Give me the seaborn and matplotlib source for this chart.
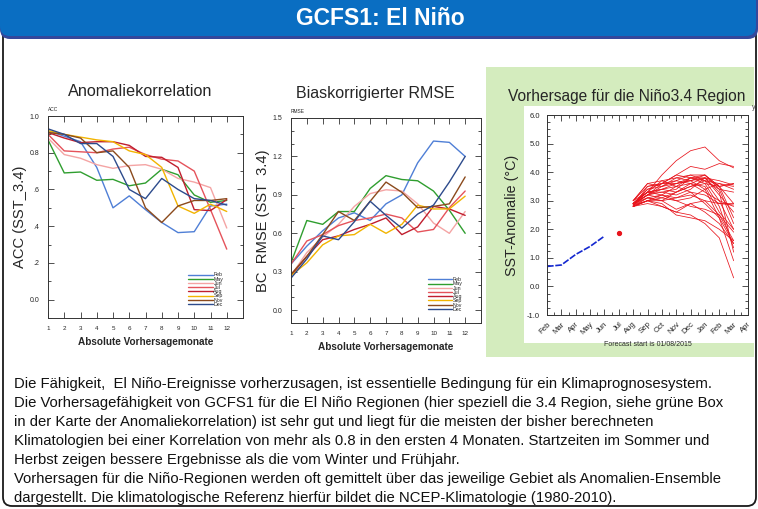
import matplotlib
matplotlib.use("Agg")
import matplotlib.pyplot as plt
from matplotlib.patches import FancyBboxPatch, Rectangle
from matplotlib.ticker import MultipleLocator
import pandas as pd
import seaborn as sns

# --- Skill-Kurven (ACC / BC-RMSE) pro Startmonat ---
lead_months = list(range(1, 13))
start_months = ["Feb", "May", "Jun", "Jul", "Aug", "Sep", "Nov", "Dec"]
start_colors = ["#4f7fd6", "#2f9e2f", "#f4a4a4", "#e5535b", "#c01e2e", "#f2b400", "#8b4a1c", "#2d4b8c"]

acc_feb = [0.92, 0.89, 0.86, 0.72, 0.50, 0.565, 0.49, 0.42, 0.365, 0.37, 0.51, 0.52]
acc_may = [0.87, 0.69, 0.695, 0.65, 0.655, 0.62, 0.635, 0.71, 0.68, 0.57, 0.53, 0.54]
acc_jun = [0.88, 0.79, 0.77, 0.735, 0.715, 0.73, 0.735, 0.71, 0.66, 0.64, 0.61, 0.39]
acc_jul = [0.90, 0.81, 0.805, 0.80, 0.82, 0.83, 0.79, 0.765, 0.755, 0.70, 0.49, 0.275]
acc_aug = [0.91, 0.88, 0.855, 0.86, 0.86, 0.84, 0.78, 0.775, 0.72, 0.49, 0.485, 0.545]
acc_sep = [0.92, 0.90, 0.885, 0.87, 0.86, 0.81, 0.79, 0.72, 0.51, 0.47, 0.52, 0.48]
acc_nov = [0.91, 0.90, 0.88, 0.80, 0.81, 0.72, 0.50, 0.42, 0.51, 0.54, 0.54, 0.55]
acc_dec = [0.93, 0.90, 0.85, 0.85, 0.78, 0.60, 0.55, 0.66, 0.60, 0.55, 0.54, 0.515]

rmse_feb = [0.36, 0.50, 0.62, 0.72, 0.76, 0.70, 0.83, 0.90, 1.15, 1.32, 1.31, 1.20]
rmse_may = [0.37, 0.70, 0.67, 0.77, 0.77, 0.95, 1.05, 1.02, 1.01, 0.93, 0.78, 0.60]
rmse_jun = [0.27, 0.45, 0.57, 0.67, 0.81, 0.91, 0.94, 0.93, 0.83, 0.68, 0.60, 0.77]
rmse_jul = [0.36, 0.54, 0.59, 0.66, 0.70, 0.72, 0.75, 0.72, 0.61, 0.63, 0.80, 0.93]
rmse_aug = [0.27, 0.42, 0.55, 0.58, 0.63, 0.67, 0.72, 0.59, 0.65, 0.81, 0.79, 0.74]
rmse_sep = [0.27, 0.37, 0.51, 0.58, 0.59, 0.67, 0.60, 0.67, 0.82, 0.79, 0.79, 0.89]
rmse_nov = [0.28, 0.42, 0.59, 0.77, 0.70, 0.85, 1.00, 0.92, 0.80, 0.81, 0.83, 1.04]
rmse_dec = [0.25, 0.40, 0.58, 0.55, 0.69, 0.85, 0.74, 0.64, 0.75, 0.82, 1.00, 1.20]

acc_all = [acc_feb, acc_may, acc_jun, acc_jul, acc_aug, acc_sep, acc_nov, acc_dec]
rmse_all = [rmse_feb, rmse_may, rmse_jun, rmse_jul, rmse_aug, rmse_sep, rmse_nov, rmse_dec]

# --- Nino3.4 Vorhersage ---
axis_months = ["Feb", "Mar", "Apr", "May", "Jun", "Jul", "Aug", "Sep",
               "Oct", "Nov", "Dec", "Jan", "Feb", "Mar", "Apr"]
obs_sst = [0.70, 0.75, 1.12, 1.40, 1.76]          # Feb..Jun beobachtet
jul_sst = 1.86
ens_members = [
    [2.90, 3.30, 3.90, 4.40, 4.75, 4.88, 4.40, 4.15],
    [2.90, 3.20, 3.60, 3.90, 4.20, 4.10, 4.30, 4.20],
    [2.80, 3.50, 3.60, 3.70, 3.90, 3.90, 3.50, 3.60],
    [3.00, 3.60, 3.70, 3.50, 3.80, 3.80, 3.70, 3.55],
    [2.90, 3.30, 3.40, 3.60, 3.70, 3.90, 3.40, 3.30],
    [2.80, 3.10, 3.00, 3.30, 3.50, 3.60, 3.50, 2.90],
    [2.85, 3.00, 3.20, 3.10, 3.30, 3.20, 2.90, 2.85],
    [2.90, 3.40, 3.50, 3.80, 3.70, 3.80, 3.20, 2.60],
    [2.80, 2.90, 2.80, 2.60, 2.90, 3.00, 2.90, 2.90],
    [3.00, 3.30, 3.20, 3.00, 3.10, 3.40, 3.60, 3.50],
    [2.90, 3.20, 3.50, 3.70, 3.60, 3.50, 2.60, 2.00],
    [2.80, 3.00, 2.90, 2.50, 2.40, 2.30, 2.00, 1.60],
    [2.90, 3.30, 3.30, 3.40, 3.80, 3.90, 3.50, 2.40],
    [2.85, 3.10, 3.00, 2.70, 2.90, 2.60, 2.20, 1.50],
    [2.90, 3.40, 3.60, 3.90, 3.80, 3.60, 2.80, 1.35],
    [2.80, 3.00, 2.80, 2.60, 2.50, 2.20, 1.70, 0.30],
    [3.00, 3.50, 3.60, 3.60, 3.70, 3.40, 2.40, 0.90],
    [2.90, 3.20, 3.10, 3.30, 3.50, 3.70, 3.40, 2.20],
    [2.80, 3.00, 3.00, 3.10, 3.20, 3.00, 2.50, 1.90],
    [2.90, 3.30, 3.40, 3.50, 3.60, 3.30, 3.00, 2.00],
    [2.85, 3.20, 3.30, 3.20, 3.40, 3.80, 3.30, 1.20],
    [3.00, 3.60, 3.50, 3.60, 3.80, 3.70, 3.60, 3.40],
    [2.90, 3.10, 3.20, 3.50, 3.30, 2.90, 2.40, 1.50],
    [2.80, 3.00, 3.10, 3.00, 2.80, 2.70, 2.50, 1.60],
    [2.90, 3.30, 3.70, 3.80, 3.90, 3.70, 3.00, 2.80],
    [2.85, 3.20, 3.40, 3.30, 3.60, 3.80, 3.50, 3.60],
]

body_lines = [
    "Die Fähigkeit,  El Niño-Ereignisse vorherzusagen, ist essentielle Bedingung für ein Klimaprognosesystem.",
    "Die Vorhersagefähigkeit von GCFS1 für die El Niño Regionen (hier speziell die 3.4 Region, siehe grüne Box",
    "in der Karte der Anomaliekorrelation) ist sehr gut und liegt für die meisten der bisher berechneten",
    "Klimatologien bei einer Korrelation von mehr als 0.8 in den ersten 4 Monaten. Startzeiten im Sommer und",
    "Herbst zeigen bessere Ergebnisse als die vom Winter und Frühjahr.",
    "Vorhersagen für die Niño-Regionen werden oft gemittelt über das jeweilige Gebiet als Anomalien-Ensemble",
    "dargestellt. Die klimatologische Referenz hierfür bildet die NCEP-Klimatologie (1980-2010).",
]

sns.set_style("white")
plt.rcParams["font.family"] = ["Liberation Sans", "DejaVu Sans"]

W, H = 758, 509
fig = plt.figure(figsize=(W / 100, H / 100), dpi=100)


def frac(l, t, r, b):
    return [l / W, 1 - b / H, (r - l) / W, (b - t) / H]


# Hintergrund in Pixel-Koordinaten
bg = fig.add_axes([0, 0, 1, 1])
bg.set_xlim(0, W)
bg.set_ylim(H, 0)
bg.axis("off")
bg.add_patch(FancyBboxPatch((3, 20), 753, 486, boxstyle="round,pad=0,rounding_size=9",
                            fc="white", ec="#1a1a1a", lw=1.3))
bg.add_patch(FancyBboxPatch((0, -15), 758, 54, boxstyle="round,pad=0,rounding_size=10",
                            fc="#34489c", ec="none"))
bg.add_patch(FancyBboxPatch((0, -15), 756, 51, boxstyle="round,pad=0,rounding_size=10",
                            fc="#0a6ec2", ec="none"))
bg.text(380, 18, "GCFS1: El Niño", color="white", fontsize=16.5, fontweight="bold",
        ha="center", va="center")
bg.add_patch(Rectangle((486, 67), 268, 290, fc="#d4ecbe", ec="none"))
bg.add_patch(Rectangle((524, 106), 230, 237, fc="white", ec="none"))
for i, line in enumerate(body_lines):
    bg.text(14, 384 + 19 * i, line, fontsize=10.75, ha="left", va="center", color="#111111")
bg.text(140, 91, "Anomaliekorrelation", fontsize=11.7, ha="center", va="center")
bg.text(375, 93, "Biaskorrigierter RMSE", fontsize=11.5, ha="center", va="center")
bg.text(627, 96, "Vorhersage für die Niño3.4 Region", fontsize=11.2, ha="center", va="center")
bg.text(754, 107, "y", fontsize=5, ha="center", va="center", color="#444444")


def style_skill(ax, ylo, yhi, ystep, minor):
    ax.set_xlim(1, 13)
    ax.set_ylim(ylo, yhi)
    ax.set_xticks(lead_months)
    ax.yaxis.set_major_locator(MultipleLocator(ystep))
    ax.yaxis.set_minor_locator(MultipleLocator(minor))
    ax.tick_params(which="both", direction="in", top=True, right=True, bottom=True, left=True,
                   labelsize=5, width=0.6, color="#333333")
    ax.tick_params(which="major", length=4, pad=6)
    ax.tick_params(which="minor", length=2)
    ax.tick_params(axis="x", labelsize=4.5)
    for s in ax.spines.values():
        s.set_linewidth(0.7)
        s.set_color("#333333")
    ax.set_xlabel("Absolute Vorhersagemonate", fontsize=7.2, fontweight="bold", labelpad=4)
    handles, labels = ax.get_legend_handles_labels()
    ax.legend(handles, labels, loc="lower left", bbox_to_anchor=(0.72, 0.055), fontsize=3.8,
              frameon=False, labelspacing=-0.15, handlelength=4.6, handletextpad=0.15,
              borderpad=0, borderaxespad=0)


palette = dict(zip(start_months, start_colors))

acc_df = pd.DataFrame([(m, l, v) for m, vals in zip(start_months, acc_all)
                       for l, v in zip(lead_months, vals)], columns=["start", "lead", "acc"])
rmse_df = pd.DataFrame([(m, l, v) for m, vals in zip(start_months, rmse_all)
                        for l, v in zip(lead_months, vals)], columns=["start", "lead", "rmse"])

ax1 = fig.add_axes(frac(48, 116, 243, 318))
sns.lineplot(data=acc_df, x="lead", y="acc", hue="start", hue_order=start_months,
             palette=palette, lw=1.0, ax=ax1)
style_skill(ax1, -0.1, 1.0, 0.2, 0.1)
ax1.set_yticks([0.0, 0.2, 0.4, 0.6, 0.8, 1.0], ["0.0", ".2", ".4", ".6", "0.8", "1.0"])
ax1.set_ylabel("ACC (SST_3.4)", fontsize=10.6)
ax1.yaxis.set_label_coords(-0.145, 0.5)
ax1.yaxis.label.set_va("center")
ax1.text(0.0, 1.02, "ACC", transform=ax1.transAxes, fontsize=3.5, ha="left", va="bottom")

ax2 = fig.add_axes(frac(291, 118, 481, 323))
sns.lineplot(data=rmse_df, x="lead", y="rmse", hue="start", hue_order=start_months,
             palette=palette, lw=1.0, ax=ax2)
style_skill(ax2, -0.1, 1.5, 0.3, 0.1)
ax2.set_yticks([0.0, 0.3, 0.6, 0.9, 1.2, 1.5], ["0.0", "0.3", "0.6", "0.9", "1.2", "1.5"])
ax2.set_ylabel("BC  RMSE (SST  3.4)", fontsize=10.6)
ax2.yaxis.set_label_coords(-0.15, 0.5)
ax2.yaxis.label.set_va("center")
ax2.text(0.0, 1.02, "RMSE", transform=ax2.transAxes, fontsize=3.5, ha="left", va="bottom")

# Nino3.4 Panel
fc_start = axis_months.index("Aug")
obs_df = pd.DataFrame({"pos": list(range(len(obs_sst))), "sst": obs_sst})
ens_df = pd.DataFrame([(i, fc_start + j, v) for i, mem in enumerate(ens_members)
                       for j, v in enumerate(mem)], columns=["member", "pos", "sst"])

ax3 = fig.add_axes(frac(547, 115, 748, 315))
sns.lineplot(data=ens_df, x="pos", y="sst", units="member", estimator=None,
             color="#e8141c", lw=0.55, ax=ax3)
sns.lineplot(data=obs_df, x="pos", y="sst", color="#1428d0", lw=1.2, ax=ax3,
             dashes=False, linestyle=(0, (4, 1)))
ax3.plot([axis_months.index("Jul")], [jul_sst], "o", color="#e8141c", ms=2.8)
ax3.set_xlim(0, len(axis_months) - 1)
ax3.set_ylim(-1.0, 6.0)
ax3.set_xticks(range(len(axis_months)), axis_months, rotation=45, ha="right",
               rotation_mode="anchor")
ax3.set_yticks(range(-1, 7), [f"{v:.1f}" for v in range(-1, 7)])
ax3.yaxis.set_minor_locator(MultipleLocator(0.25))
ax3.xaxis.set_minor_locator(MultipleLocator(0.5))
ax3.tick_params(which="both", direction="in", top=True, right=True, bottom=True, left=True,
                labelsize=5.5, width=0.6, color="#333333")
ax3.tick_params(which="major", length=4, pad=5)
ax3.tick_params(which="minor", length=2)
ax3.tick_params(axis="x", labelsize=5.6, pad=4)
for s in ax3.spines.values():
    s.set_linewidth(0.7)
    s.set_color("#333333")
ax3.set_xlabel("Forecast start is 01/08/2015", fontsize=5, labelpad=4)
ax3.set_ylabel("SST-Anomalie (°C)", fontsize=10.3)
ax3.yaxis.set_label_coords(-0.175, 0.5)
ax3.yaxis.label.set_va("center")

fig.savefig("out.png", dpi=100)
